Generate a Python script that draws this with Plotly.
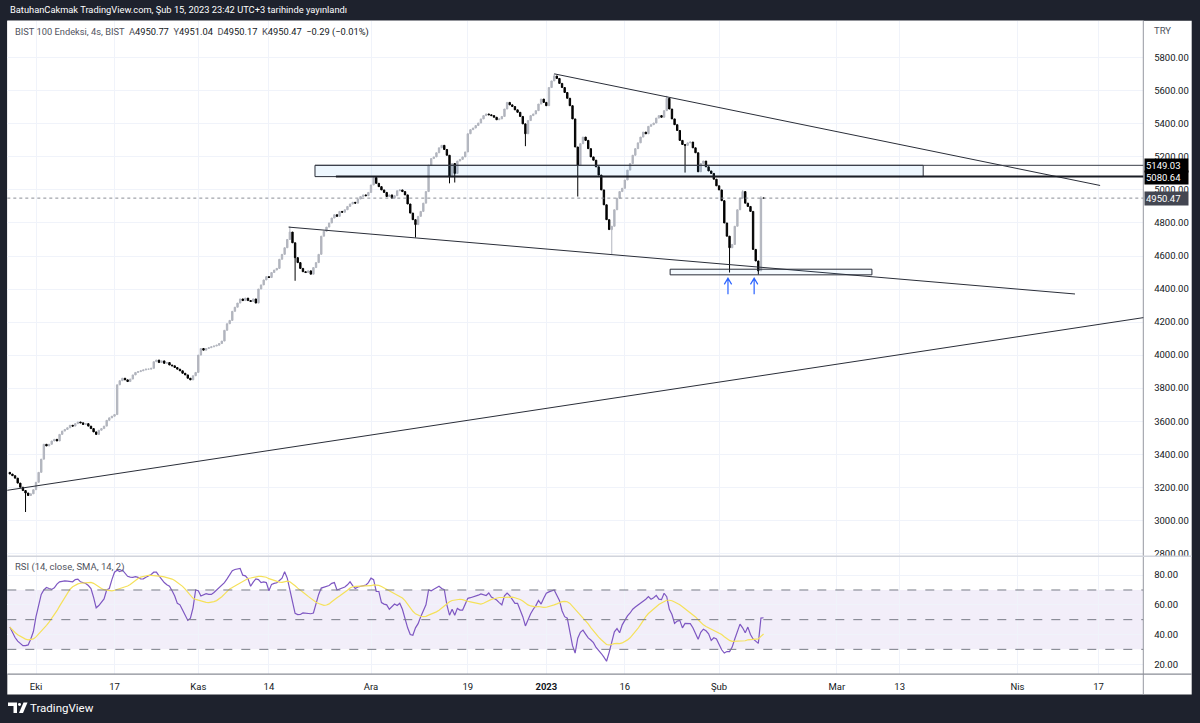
import numpy as np
import pandas as pd
import plotly.graph_objects as go

W, H = 1200, 723

# ---------------- data (BIST 100, 4h bars; bar 0 = first bar of 3 Oct 2022) ----------------
first_bar = -10
first_open = 3290
closes = [
    3280, 3270, 3255, 3225, 3200, 3180, 3165, 3150, 3160, 3185,
    3230, 3290, 3370, 3460, 3450, 3460, 3480, 3490, 3480, 3520,
    3540, 3550, 3560, 3575, 3570, 3585, 3595, 3590, 3580, 3585,
    3570, 3555, 3535, 3520, 3545, 3555, 3570, 3605, 3620, 3630,
    3640, 3820, 3845, 3860, 3850, 3840, 3855, 3880, 3895, 3900,
    3905, 3910, 3915, 3915, 3920, 3960, 3970, 3955, 3965, 3950,
    3955, 3940, 3935, 3925, 3915, 3905, 3890, 3880, 3860, 3850,
    3875, 3895, 4000, 4040, 4030, 4040, 4045, 4050, 4055, 4060,
    4070, 4085, 4150, 4190, 4210, 4265, 4290, 4315, 4340, 4330,
    4345, 4330, 4325, 4340, 4315, 4400, 4425, 4455, 4475, 4470,
    4500, 4515, 4525, 4580, 4610, 4650, 4700, 4745, 4680, 4590,
    4560, 4525, 4505, 4500, 4510, 4490, 4530, 4560, 4610, 4720,
    4750, 4775, 4800, 4830, 4850, 4840, 4870, 4865, 4880, 4900,
    4915, 4925, 4920, 4945, 4960, 4970, 4965, 4985, 5030, 5075,
    5040, 5020, 5000, 4985, 4960, 4970, 4950, 4965, 4995, 5000,
    4990, 4970, 4915, 4860, 4820, 4790, 4840, 4870, 4920, 4990,
    5150, 5190, 5200, 5225, 5255, 5270, 5245, 5210, 5080, 5160,
    5100, 5175, 5185, 5200, 5230, 5340, 5365, 5375, 5390, 5405,
    5430, 5450, 5460, 5455, 5450, 5440, 5425, 5430, 5445, 5490,
    5530, 5515, 5505, 5485, 5470, 5445, 5400, 5340, 5420, 5450,
    5460, 5480, 5520, 5550, 5530, 5510, 5620, 5660, 5690, 5675,
    5645, 5620, 5590, 5555, 5510, 5430, 5260, 5150, 5280, 5320,
    5300, 5250, 5200, 5180, 5140, 5090, 5000, 4910, 4820, 4760,
    4780, 4880, 4950, 4990, 5010, 5060, 5120, 5160, 5210, 5250,
    5285, 5320, 5350, 5340, 5385, 5395, 5405, 5435, 5450, 5440,
    5480, 5555, 5490, 5430, 5395, 5360, 5300, 5275, 5270, 5285,
    5290, 5255, 5225, 5110, 5160, 5175, 5140, 5115, 5100, 5065,
    5025, 5000, 4935, 4800, 4720, 4650, 4670, 4780, 4880, 4950,
    4990, 4920, 4900, 4870, 4640, 4570, 4510, 4950.77, 4950.47,
]
# notable wicks (bar index -> price)
wick_high = {97: 4780, 198: 5703, 241: 5570, 270: 4998, 277: 4962, 278: 4951.04}
wick_low = {-4: 3050, 99: 4450, 145: 4712, 158: 5040, 160: 5045, 187: 5265,
            207: 4960, 220: 4610, 248: 5105, 265: 4500, 276: 4488, 278: 4950.17}

# RSI(14) per bar
rsi_values = [
    45, 41, 38, 35.5, 34, 32.5, 32.5, 33, 37, 42,
    52, 60, 67, 70, 71.7, 71, 70.4, 71.5, 74, 75.5,
    76, 76.2, 76, 75.8, 75.5, 77, 77.3, 75.5, 74.8, 74.4,
    73, 71, 65, 58, 59.5, 62, 64, 70, 71, 77,
    82, 83.3, 82.4, 83.5, 81, 79.2, 78.7, 78.5, 79, 78.5,
    77.4, 77.5, 78.6, 79.5, 80.5, 82, 82, 79.5, 77, 75,
    73.5, 72.5, 69.5, 66, 61, 60, 56.5, 52.5, 49.5, 51,
    58, 70, 69.5, 66, 67, 67.5, 67, 67, 68.3, 70,
    71.7, 73.5, 75, 77.5, 80.5, 83, 83.8, 84, 84.5, 80,
    79.5, 77.5, 72.5, 75.3, 77.5, 77, 75, 75.5, 75, 69.5,
    73.8, 74.5, 74.9, 76.4, 78, 82.3, 78, 70, 62, 54.3,
    53.4, 53.5, 54.5, 54.3, 53.8, 54, 54.5, 61, 67, 71.3,
    72, 72.5, 73, 74.5, 75, 70, 70.5, 71, 72, 73.5,
    75.5, 73, 71, 72, 72.6, 73, 73.3, 75, 78, 77,
    69, 69, 61.5, 60.5, 60, 57, 59, 60.5, 59.5, 61,
    57, 50.5, 44.5, 40, 39.5, 44.5, 47.3, 52, 56.5, 60,
    70, 69.5, 70.5, 71.7, 72.5, 71, 70.2, 60, 53, 57,
    53, 57.6, 56.5, 56.5, 60, 64.4, 64.8, 65.2, 65.7, 66.5,
    67.4, 66.8, 66.3, 68, 65.2, 64.2, 63.2, 61.5, 60, 66,
    67.9, 66.2, 63.5, 61, 61, 57, 52, 45.8, 50.3, 54,
    57, 59.5, 63, 60.5, 64.5, 67.8, 68.7, 69.5, 70, 66.5,
    63, 56, 52, 51, 41, 32.5, 27.5, 37.5, 41.5, 43,
    40.3, 37.7, 36.3, 34.5, 31.3, 29.5, 27.2, 24.8, 22, 28,
    36, 41.8, 44, 41.2, 46.5, 50, 52.5, 54.5, 57, 58.5,
    59.8, 61, 62, 63.8, 65.5, 63.8, 64.8, 66.4, 63.8, 63.5,
    67.8, 65.5, 57, 53.5, 47.5, 49, 49.5, 44.5, 47.5, 47.5,
    47.3, 44.6, 41, 36.8, 41.5, 43.6, 42.5, 40.5, 36, 37.8,
    37, 33.5, 29.7, 27.5, 28.5, 28.5, 31.5, 37, 41.5, 47,
    44.5, 41.2, 45, 40, 37, 35.5, 34, 51.1, 51.3,
]
rsi_ma_len = 14

tick_bars = [0, 30, 62, 89, 128, 165, 195, 225, 261, 306, 330, 375, 406]
tick_text = ["Eki", "17", "Kas", "14", "Ara", "19", "<b>2023</b>", "16", "Şub",
             "Mar", "13", "Nis", "17"]
price_ticks = list(range(2800, 5801, 200))
rsi_ticks = [20, 40, 60, 80]
rsi_levels = [70, 50, 30]

# user drawings (bar index, price)
rise_line = [(-12, 3179), (424, 4229)]
low_line = [(96.5, 4775), (397, 4370)]
top_line = [(198, 5703), (406.6, 5027)]
level_prices = [5149.03, 5080.64]
level_starts = [106.6, 114.6]
band_box = [106.6, 339.0]
small_box = [242.3, 319.4, 4486, 4520]
arrow_bars = [264.4, 274.4]
arrow_prices = [4369, 4466]
last_price = 4950.47

x_range = [-10.97, 423.1]
y_range = [2782.7, 6025]
rsi_range = [13.3, 92.8]

# ---------------- derived series ----------------
bars = np.arange(first_bar, first_bar + len(closes))
opens = [first_open] + closes[:-1]
highs, lows = [], []
for b, o, c in zip(bars, opens, closes):
    highs.append(wick_high.get(int(b), max(o, c)))
    lows.append(wick_low.get(int(b), min(o, c)))
rsi_ma = pd.Series(rsi_values).rolling(rsi_ma_len, min_periods=1).mean().values


def pxx(v):
    return v / W


def pxy(v):
    return 1 - v / H


FONT = "Roboto"
TXT = "#131722"

fig = go.Figure()
fig.add_trace(go.Candlestick(
    x=bars, open=opens, high=highs, low=lows, close=closes,
    increasing=dict(line=dict(color="#b2b5be", width=1), fillcolor="#b2b5be"),
    decreasing=dict(line=dict(color="#000000", width=1), fillcolor="#000000"),
    whiskerwidth=0, xaxis="x", yaxis="y", showlegend=False, hoverinfo="skip"))
fig.add_trace(go.Scatter(x=bars, y=rsi_values, mode="lines", line=dict(color="#7e57c2", width=1.2),
                         xaxis="x2", yaxis="y2", showlegend=False, hoverinfo="skip"))
fig.add_trace(go.Scatter(x=bars, y=rsi_ma, mode="lines", line=dict(color="#f5e15a", width=1.2),
                         xaxis="x2", yaxis="y2", showlegend=False, hoverinfo="skip"))

shapes = []
shapes.append(dict(type="rect", xref="paper", yref="paper", x0=pxx(7.3), x1=pxx(1191.7),
                   y0=pxy(696.5), y1=pxy(20.7), fillcolor="white", line=dict(width=0), layer="below"))
shapes.append(dict(type="rect", xref="x2 domain", yref="y2", x0=0, x1=1, y0=rsi_levels[2], y1=rsi_levels[0],
                   fillcolor="rgba(126,87,194,0.10)", line=dict(width=0), layer="below"))
for lv in rsi_levels:
    shapes.append(dict(type="line", xref="x2 domain", yref="y2", x0=0, x1=1, y0=lv, y1=lv,
                       line=dict(color="#787b86", width=1, dash="dash")))
shapes.append(dict(type="line", xref="paper", yref="paper", x0=pxx(1143.3), x1=pxx(1143.3),
                   y0=pxy(696.5), y1=pxy(20.7), line=dict(color="#9598a1", width=1)))
shapes.append(dict(type="line", xref="paper", yref="paper", x0=pxx(7.3), x1=pxx(1191.7),
                   y0=pxy(557.7), y1=pxy(557.7), line=dict(color="#d1d4dc", width=1.5)))
shapes.append(dict(type="line", xref="paper", yref="paper", x0=pxx(7.3), x1=pxx(1191.7),
                   y0=pxy(676), y1=pxy(676), line=dict(color="#8a8d96", width=1.2)))
shapes.append(dict(type="line", xref="x domain", yref="y", x0=0, x1=1, y0=last_price, y1=last_price,
                   line=dict(color="#8a8d96", width=1, dash="dot")))
LINE = "#2a2e39"
for (a, b) in [rise_line, low_line, top_line]:
    shapes.append(dict(type="line", xref="x", yref="y", x0=a[0], y0=a[1], x1=b[0], y1=b[1],
                       line=dict(color=LINE, width=1)))
shapes.append(dict(type="rect", xref="x", yref="y", x0=band_box[0], x1=band_box[1],
                   y0=level_prices[1], y1=level_prices[0], fillcolor="rgba(33,150,243,0.08)",
                   line=dict(color=LINE, width=1)))
shapes.append(dict(type="line", xref="x", yref="y", x0=level_starts[0], x1=x_range[1] + 2,
                   y0=level_prices[0], y1=level_prices[0], line=dict(color="#3a3e49", width=1)))
shapes.append(dict(type="line", xref="x", yref="y", x0=level_starts[1], x1=x_range[1] + 2,
                   y0=level_prices[1], y1=level_prices[1], line=dict(color="#1a1d25", width=2)))
shapes.append(dict(type="rect", xref="x", yref="y", x0=small_box[0], x1=small_box[1],
                   y0=small_box[2], y1=small_box[3], fillcolor="rgba(33,150,243,0.05)",
                   line=dict(color=LINE, width=1)))
for ab in arrow_bars:
    tail, tip = arrow_prices
    shapes.append(dict(type="path", xref="x", yref="y",
                       path=f"M {ab},{tail} L {ab},{tip} M {ab-1.4},{tip-38} L {ab},{tip} L {ab+1.4},{tip-38}",
                       line=dict(color="#2962ff", width=1.2)))
shapes.append(dict(type="path", xref="paper", yref="paper",
                   path=f"M {pxx(8)},{pxy(704.5)} L {pxx(17)},{pxy(704.5)} L {pxx(17)},{pxy(715)} "
                        f"L {pxx(13.5)},{pxy(715)} L {pxx(13.5)},{pxy(708)} L {pxx(8)},{pxy(708)} Z",
                   fillcolor="white", line=dict(width=0)))
shapes.append(dict(type="circle", xref="paper", yref="paper", x0=pxx(18), x1=pxx(21),
                   y0=pxy(708), y1=pxy(705), fillcolor="white", line=dict(width=0)))
shapes.append(dict(type="path", xref="paper", yref="paper",
                   path=f"M {pxx(23.5)},{pxy(704.5)} L {pxx(27.5)},{pxy(704.5)} L {pxx(23)},{pxy(715)} "
                        f"L {pxx(19)},{pxy(715)} Z",
                   fillcolor="white", line=dict(width=0)))

ann = []
ann.append(dict(xref="paper", yref="paper", x=pxx(8), y=pxy(10), xanchor="left", yanchor="middle",
                showarrow=False, font=dict(family=FONT, size=9.3, color="white"),
                text="BatuhanCakmak TradingView.com, Şub 15, 2023 23:42 UTC+3 tarihinde yayınlandı"))
ann.append(dict(xref="paper", yref="paper", x=pxx(13), y=pxy(32), xanchor="left", yanchor="middle",
                showarrow=False, font=dict(family=FONT, size=9.3, color="#50535e"),
                text="BIST 100 Endeksi, 4s, BIST  A<span style='color:#131722'>4950.77</span>  "
                     "Y<span style='color:#131722'>4951.04</span>  D<span style='color:#131722'>4950.17</span>  "
                     "K<span style='color:#131722'>4950.47</span>  <span style='color:#131722'>−0.29 (−0.01%)</span>"))
ann.append(dict(xref="paper", yref="paper", x=pxx(1152), y=pxy(31), xanchor="left", yanchor="middle",
                showarrow=False, font=dict(family=FONT, size=9.5, color="#50535e"), text="TRY"))
ann.append(dict(xref="paper", yref="paper", x=pxx(13), y=pxy(569), xanchor="left", yanchor="middle",
                showarrow=False, font=dict(family=FONT, size=9.5, color="#50535e"),
                text="RSI (14, close, SMA, 14, 2)"))
ann.append(dict(xref="paper", yref="paper", x=pxx(28), y=pxy(710), xanchor="left", yanchor="middle",
                showarrow=False, font=dict(family=FONT, size=11.5, color="white"), text="TradingView"))
for p, col, dy in [(level_prices[0], "#000000", 0), (level_prices[1], "#000000", 0.6),
                   (last_price, "#434651", 0)]:
    ann.append(dict(xref="paper", yref="y", x=pxx(1143.8), y=p, xanchor="left", yanchor="middle",
                    yshift=-dy, showarrow=False, bgcolor=col, borderpad=1, width=41, align="left",
                    font=dict(family=FONT, size=9.5, color="white"), text=f"{p:.2f}"))

axis_font = dict(family=FONT, size=9.5, color=TXT)
fig.update_layout(
    width=W, height=H, margin=dict(l=0, r=0, t=0, b=0),
    paper_bgcolor="#1e222d", plot_bgcolor="white", boxgap=0.25,
    shapes=shapes, annotations=ann, showlegend=False,
    xaxis=dict(domain=[pxx(7.3), pxx(1143.3)], range=x_range, anchor="y",
               tickvals=tick_bars, showticklabels=False, showgrid=True, gridcolor="#f0f3fa",
               zeroline=False, rangeslider=dict(visible=False), fixedrange=True),
    xaxis2=dict(domain=[pxx(7.3), pxx(1143.3)], range=x_range, anchor="y2", matches="x",
                tickvals=tick_bars, ticktext=tick_text, showgrid=True, gridcolor="#f0f3fa",
                zeroline=False, tickfont=axis_font, ticks="outside", ticklen=3,
                tickcolor="rgba(0,0,0,0)"),
    yaxis=dict(domain=[pxy(557.7), pxy(20.7)], range=y_range, side="right", anchor="x",
               tickvals=price_ticks, ticktext=[f"{v:.2f}" for v in price_ticks],
               showgrid=True, gridcolor="#f0f3fa", zeroline=False, tickfont=axis_font,
               ticks="outside", ticklen=8, tickcolor="rgba(0,0,0,0)"),
    yaxis2=dict(domain=[pxy(676), pxy(557.7)], range=rsi_range, side="right", anchor="x2",
                tickvals=rsi_ticks, ticktext=[f"{v:.2f}" for v in rsi_ticks],
                showgrid=True, gridcolor="#f0f3fa", zeroline=False, tickfont=axis_font,
                ticks="outside", ticklen=8, tickcolor="rgba(0,0,0,0)"),
)

fig.write_html("out.html")
